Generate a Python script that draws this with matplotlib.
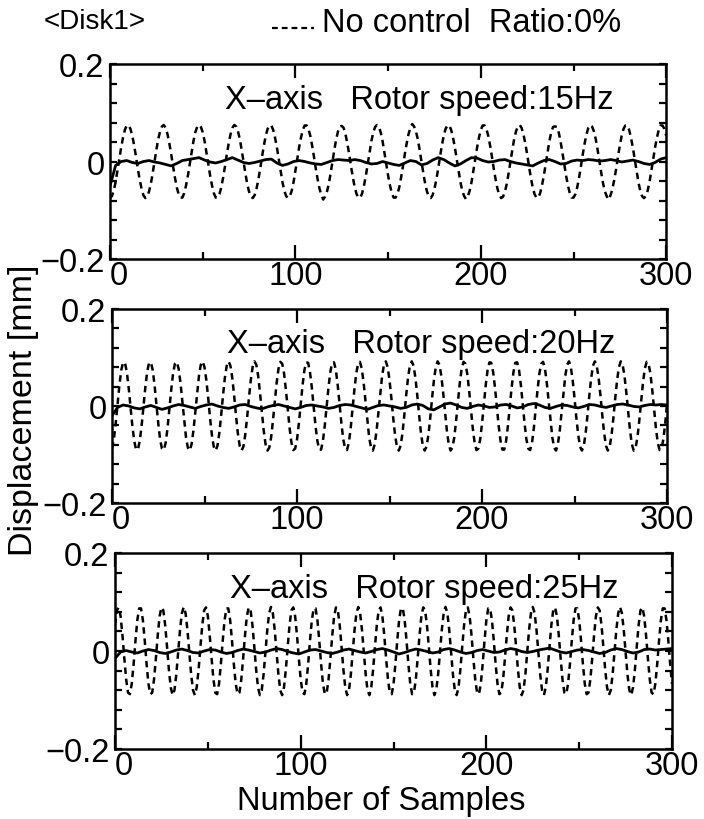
import numpy as np
import matplotlib
matplotlib.use('Agg')
import matplotlib.pyplot as plt
from matplotlib.ticker import MultipleLocator
from matplotlib.lines import Line2D

# displacement, in micrometres, one value per sample
# no control, rotor speed 15Hz
disp_15hz = [
    -75, -71, -60, -42, -19, 5, 29, 49, 65, 74, 74, 67, 53, 33, 10, -15,
    -37, -56, -69, -75, -72, -62, -46, -24, 0, 24, 46, 62, 72, 75, 69, 56,
    37, 15, -10, -33, -53, -67, -74, -74, -65, -49, -29, -5, 19, 42, 60, 71,
    75, 71, 60, 42, 19, -5, -29, -49, -65, -74, -74, -67, -53, -33, -10, 15,
    37, 56, 69, 75, 72, 62, 46, 24, 0, -24, -46, -62, -72, -75, -69, -56,
    -37, -15, 10, 33, 53, 67, 74, 74, 65, 49, 29, 5, -19, -42, -60, -71,
    -75, -71, -60, -42, -19, 5, 29, 49, 65, 74, 74, 67, 53, 33, 10, -15,
    -37, -56, -69, -78, -72, -62, -46, -24, 0, 24, 46, 62, 72, 73, 69, 56,
    37, 15, -10, -33, -53, -67, -74, -74, -65, -49, -29, -5, 19, 42, 60, 71,
    75, 71, 60, 42, 19, -5, -29, -49, -65, -74, -74, -67, -53, -33, -10, 15,
    37, 56, 69, 77, 72, 62, 46, 24, 0, -24, -46, -62, -72, -75, -69, -56,
    -37, -15, 10, 33, 53, 67, 74, 74, 65, 49, 29, 5, -19, -42, -60, -71,
    -77, -71, -60, -42, -19, 5, 29, 49, 65, 74, 74, 67, 53, 33, 10, -15,
    -37, -56, -69, -75, -72, -62, -46, -24, 0, 24, 46, 62, 72, 75, 69, 56,
    37, 15, -10, -33, -53, -67, -74, -74, -65, -49, -29, -5, 19, 42, 60, 71,
    72, 71, 60, 42, 19, -5, -29, -49, -65, -74, -74, -67, -53, -33, -10, 15,
    37, 56, 69, 75, 72, 62, 46, 24, 0, -24, -46, -62, -72, -78, -69, -56,
    -37, -15, 10, 33, 53, 67, 74, 74, 65, 49, 29, 5, -19, -42, -60, -71,
    -75, -71, -60, -42, -19, 5, 29, 49, 65, 74, 74, 67, 53,
]

# no control, rotor speed 20Hz
disp_20hz = [
    -88, -69, -36, 4, 43, 74, 90, 89, 70, 38,
    -1, -41, -72, -90, -90, -72, -41, -1, 38, 70,
    89, 90, 74, 43, 4, -36, -69, -88, -91, -76,
    -46, -7, 33, 67, 87, 91, 77, 48, 10, -30,
    -65, -86, -92, -79, -51, -13, 27, 62, 85, 92,
    80, 53, 16, -25, -60, -84, -92, -82, -56, -19,
    22, 58, 83, 92, 83, 58, 22, -19, -56, -82,
    -92, -84, -60, -25, 16, 53, 80, 92, 85, 62,
    27, -13, -51, -79, -92, -86, -65, -30, 10, 48,
    77, 91, 87, 67, 33, -7, -46, -76, -91,
    -88, -69, -36, 4, 43, 74, 90, 89, 70, 38,
    -1, -41, -72, -90, -90, -72, -41, -1, 38, 70,
    89, 90, 74, 43, 4, -36, -69, -88, -91, -76,
    -46, -7, 33, 67, 87, 91, 77, 48, 10, -30,
    -65, -86, -92, -79, -51, -13, 27, 62, 85, 92,
    80, 53, 16, -25, -60, -84, -92, -82, -56, -19,
    22, 58, 83, 92, 83, 58, 22, -19, -56, -82,
    -92, -84, -60, -25, 16, 53, 80, 92, 85, 62,
    27, -13, -51, -79, -92, -86, -65, -30, 10, 48,
    77, 91, 87, 67, 33, -7, -46, -76, -91,
    -88, -69, -36, 4, 43, 74, 90, 89, 70, 38,
    -1, -41, -72, -90, -90, -72, -41, -1, 38, 70,
    89, 90, 74, 43, 4, -36, -69, -88, -91, -76,
    -46, -7, 33, 67, 87, 91, 77, 48, 10, -30,
    -65, -86, -92, -79, -51, -13, 27, 62, 85, 92,
    80, 53, 16, -25, -60, -84, -92, -82, -56, -19,
    22, 58, 83, 92, 83, 58, 22, -19, -56, -82,
    -92, -84, -60, -25, 16, 53, 80, 92, 85, 62,
    27, -13, -51, -79, -92, -86, -65, -30, 10, 48,
    77, 91, 87, 67, 33, -7, -46, -76, -91,
    -88, -69, -36, 4,
]

# no control, rotor speed 25Hz
disp_25hz = [
    53, 83, 89, 71, 32, -15, -58, -85, -88, -67,
    -27, 21, 63, 87, 87, 63, 21, -27, -67, -88,
    -85, -58, -15, 32, 71, 89, 83, 53, 9, -38,
    -74, -90, -80, -48, -3, 43, 77, 90, 77, 43,
    -3, -48, -80, -90, -74, -38, 9,
    53, 83, 89, 71, 32, -15, -58, -85, -88, -67,
    -27, 21, 63, 87, 87, 63, 21, -27, -67, -88,
    -85, -58, -15, 32, 71, 89, 83, 53, 9, -38,
    -74, -90, -80, -48, -3, 43, 77, 90, 77, 43,
    -3, -48, -80, -90, -74, -38, 9,
    53, 83, 89, 71, 32, -15, -58, -85, -88, -67,
    -27, 21, 63, 87, 87, 63, 21, -27, -67, -88,
    -85, -58, -15, 32, 71, 89, 83, 53, 9, -38,
    -74, -90, -80, -48, -3, 43, 77, 90, 77, 43,
    -3, -48, -80, -90, -74, -38, 9,
    53, 83, 89, 71, 32, -15, -58, -85, -88, -67,
    -27, 21, 63, 87, 87, 63, 21, -27, -67, -88,
    -85, -58, -15, 32, 71, 89, 83, 53, 9, -38,
    -74, -90, -80, -48, -3, 43, 77, 90, 77, 43,
    -3, -48, -80, -90, -74, -38, 9,
    53, 83, 89, 71, 32, -15, -58, -85, -88, -67,
    -27, 21, 63, 87, 87, 63, 21, -27, -67, -88,
    -85, -58, -15, 32, 71, 89, 83, 53, 9, -38,
    -74, -90, -80, -48, -3, 43, 77, 90, 77, 43,
    -3, -48, -80, -90, -74, -38, 9,
    53, 83, 89, 71, 32, -15, -58, -85, -88, -67,
    -27, 21, 63, 87, 87, 63, 21, -27, -67, -88,
    -85, -58, -15, 32, 71, 89, 83, 53, 9, -38,
    -74, -90, -80, -48, -3, 43, 77, 90, 77, 43,
    -3, -48, -80, -90, -74, -38, 9,
    53, 83, 89, 71, 32, -15, -58, -85, -88, -67,
    -27, 21, 63, 87, 87, 63, 21, -27, -67,
]

# with control (solid line), read every 3rd sample
ctrl_step = 3
ctrl_15hz = [
    -50, -8, 0, 2, -2, -4, 0, 2, -1, -3,
    -6, -9, -4, 2, 4, 6, 8, 3, -1, -3,
    0, 4, 8, 3, -2, -4, -2, 1, 4, 5,
    -3, -8, -5, 0, 2, 0, -3, -5, -6, -2,
    2, 4, 3, 2, 4, 2, -2, -5, -4, 0,
    -3, -6, -8, -3, 2, 0, -7, -4, 3, 8,
    4, -3, -9, -5, 2, 8, 7, 2, -1, 0,
    3, 4, 0, -3, -5, -7, -9, -3, 2, 4,
    0, -5, -4, 1, 3, 2, 4, 3, 1, 2,
    4, 2, -1, 1, 3, 0, -4, -6, -2, 5,
    8,
]
ctrl_20hz = [
    -20, -3, 2, 0, -4, -6, -2, 1, -3, -7,
    -4, 0, 3, 1, -2, -5, -1, 2, 4, 0,
    -3, -5, -2, 2, 3, -1, -4, -6, -2, 1,
    3, 0, -3, -6, -3, 1, 2, 0, -2, -5,
    -3, 1, 3, 2, -1, -4, -7, -3, 1, 2,
    0, -2, -5, -3, 2, 4, 1, -6, -8, -2,
    4, 6, 2, -3, -5, -1, 2, 0, -3, -2,
    2, 3, 0, -4, -2, 3, 5, 2, -3, -5,
    -1, 2, 1, -2, -4, -1, 3, 2, -1, -3,
    0, 3, 4, 2, -1, -2, 1, 3, 2, 3,
    2,
]
ctrl_25hz = [
    -15, -2, 1, -2, -4, 0, 3, 1, -3, -5,
    -2, 2, 4, 1, -3, -4, 0, 3, 2, -2,
    -5, -3, 1, 4, 2, -1, -4, -2, 2, 5,
    3, -1, -4, -6, -2, 2, 3, 0, -3, -5,
    -2, 2, 4, 1, -2, -4, -1, 3, 5, 2,
    -2, -6, -3, 1, 4, 2, -1, -4, -2, 3,
    5, 2, -2, -5, -3, 1, 3, 0, -3, -2,
    2, 5, 3, -1, -3, -1, 2, 4, 6, 2,
    -2, -4, -1, 2, 3, 1, -2, -5, -3, 2,
    5, 3, -1, -4, -2, 3, 4, 2, 3, 4,
    5,
]

speeds = ['15Hz', '20Hz', '25Hz']
no_ctrl = [disp_15hz, disp_20hz, disp_25hz]
with_ctrl = [ctrl_15hz, ctrl_20hz, ctrl_25hz]

plt.rcParams['font.family'] = ['Liberation Sans', 'DejaVu Sans']
plt.rcParams['font.size'] = 23.5
plt.rcParams['axes.unicode_minus'] = True

fig = plt.figure(figsize=(7.04, 8.20), dpi=100)

# axes boxes (left, bottom, width, height)
boxes = [
    [0.1563, 0.6829, 0.7900, 0.2378],
    [0.1591, 0.3854, 0.7884, 0.2366],
    [0.1634, 0.0853, 0.7912, 0.2391],
]

fs = 23.5
dash = (0, (2.6, 1.9))
axes = []
for box, spd, y0, y1 in zip(boxes, speeds, no_ctrl, with_ctrl):
    ax = fig.add_axes(box)
    y0 = np.array(y0) / 1000.0
    y1 = np.array(y1) / 1000.0
    ax.plot(np.arange(len(y0)), y0, color='k', lw=1.8, linestyle=dash)
    ax.plot(np.arange(len(y1)) * ctrl_step, y1, color='k', lw=2.0)
    ax.set_xlim(0, 300)
    ax.set_ylim(-0.2, 0.2)
    ax.set_xticks([0, 100, 200, 300])
    ax.set_xticks([50, 150, 250], minor=True)
    ax.set_yticks([-0.2, 0, 0.2])
    ax.set_yticklabels(['\u22120.2', '0', '0.2'])
    ax.yaxis.set_minor_locator(MultipleLocator(0.04))
    ax.tick_params(which='both', direction='in', top=True, right=True,
                   width=1.6, labelsize=fs)
    ax.tick_params(axis='x', which='major', length=10, pad=1)
    ax.tick_params(axis='x', which='minor', length=5)
    ax.tick_params(axis='y', which='both', length=5, pad=4)
    # the "0" under the corner sits just right of the spine in the scan
    ax.xaxis.get_major_ticks()[0].label1.set_horizontalalignment('left')
    for s in ax.spines.values():
        s.set_linewidth(1.8)
    ax.text(0.207, 0.82, 'X\u2013axis   Rotor speed:' + spd,
            transform=ax.transAxes, ha='left', va='center', fontsize=fs)
    axes.append(ax)

fig.text(0.541, 0.022, 'Number of Samples', ha='center', va='center',
         fontsize=fs)
fig.text(0.034, 0.5, 'Displacement [mm]', rotation=90,
         ha='center', va='center', fontsize=24.5)

# header
fig.text(0.062, 0.973, '<Disk1>', ha='left', va='center', fontsize=20)
fig.add_artist(Line2D([272 / 704, 314 / 704], [1 - 29 / 820] * 2,
                      transform=fig.transFigure, color='k', lw=1.6,
                      linestyle=(0, (2.6, 1.8))))
fig.text(0.457, 0.971, 'No control  Ratio:0%', ha='left', va='center',
         fontsize=fs)

fig.savefig('out.png', dpi=100)
